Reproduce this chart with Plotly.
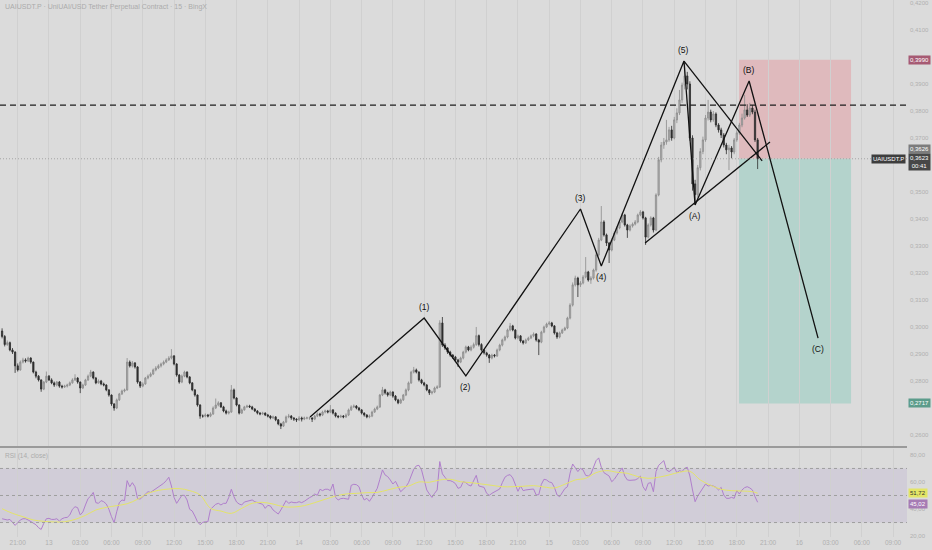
import pandas as pd
import plotly.graph_objects as go

# UAIUSDT.P 15 min candles, prices in 1e-4 USDT
first_open = 2985
closes = [
    2965, 2935, 2942, 2915, 2907, 2856, 2841, 2870, 2878, 2874,
    2885, 2870, 2833, 2818, 2804, 2770, 2796, 2818, 2804, 2793,
    2785, 2796, 2781, 2778, 2781, 2785, 2793, 2804, 2811, 2796,
    2774, 2785, 2804, 2818, 2833, 2811, 2793, 2800, 2789, 2785,
    2767, 2748, 2715, 2700, 2730, 2752, 2763, 2767, 2870, 2856,
    2867, 2852, 2796, 2781, 2789, 2811, 2818, 2826, 2841, 2848,
    2856, 2863, 2870, 2878, 2885, 2893, 2863, 2822, 2796, 2818,
    2833, 2815, 2793, 2767, 2748, 2711, 2670, 2670, 2674, 2670,
    2678, 2700, 2711, 2719, 2704, 2689, 2681, 2685, 2767, 2737,
    2711, 2681, 2693, 2704, 2707, 2704, 2696, 2689, 2681, 2678,
    2681, 2674, 2670, 2663, 2667, 2656, 2641, 2633, 2648, 2667,
    2670, 2663, 2659, 2656, 2663, 2659, 2663, 2663, 2663, 2659,
    2670, 2678, 2674, 2685, 2689, 2685, 2693, 2681, 2670, 2667,
    2670, 2667, 2674, 2693, 2704, 2707, 2700, 2693, 2681, 2674,
    2667, 2670, 2685, 2696, 2704, 2748, 2767, 2756, 2748, 2759,
    2744, 2730, 2719, 2730, 2748, 2767, 2793, 2833, 2841, 2833,
    2804, 2793, 2785, 2767, 2756, 2759, 2774, 2778, 3015, 2933,
    2922, 2907, 2896, 2889, 2878, 2870, 2885, 2907, 2926, 2915,
    2925, 2935, 2968, 2935, 2915, 2904, 2896, 2885, 2896, 2893,
    2915, 2933, 2952, 2963, 2989, 3004, 2989, 2959, 2967, 2948,
    2941, 2952, 2959, 2967, 2974, 2952, 2944, 2981, 3000, 3011,
    3015, 3004, 2978, 2963, 2978, 2989, 2996, 3033, 3081, 3156,
    3181, 3156, 3163, 3185, 3204, 3174, 3181, 3211, 3267, 3322,
    3389, 3341, 3311, 3285, 3322, 3348, 3367, 3389, 3415, 3378,
    3359, 3374, 3381, 3389, 3415, 3426, 3404, 3333, 3378, 3404,
    3359, 3489, 3619, 3674, 3685, 3693, 3730, 3700, 3767, 3793,
    3841, 3896, 3930, 3900, 3700, 3530, 3490, 3590, 3650, 3693,
    3774, 3796, 3767, 3789, 3748, 3730, 3711, 3674, 3656, 3663,
    3648, 3693, 3719, 3748, 3774, 3804, 3785, 3811, 3796, 3693, 3623,
]
highs = [
    2995, 2970, 2950, 2946, 2922, 2910, 2865, 2876, 2886, 2884,
    2890, 2888, 2872, 2838, 2822, 2806, 2800, 2835, 2822, 2810,
    2798, 2800, 2800, 2786, 2786, 2790, 2798, 2810, 2825, 2814,
    2798, 2790, 2808, 2824, 2841, 2836, 2815, 2806, 2804, 2794,
    2788, 2770, 2750, 2718, 2735, 2756, 2768, 2772, 2885, 2876,
    2874, 2870, 2855, 2800, 2795, 2815, 2824, 2832, 2846, 2855,
    2862, 2868, 2876, 2884, 2892, 2918, 2896, 2866, 2826, 2824,
    2838, 2836, 2818, 2796, 2770, 2750, 2714, 2676, 2680, 2678,
    2684, 2706, 2735, 2725, 2722, 2708, 2694, 2690, 2785, 2772,
    2740, 2714, 2698, 2708, 2712, 2712, 2708, 2700, 2692, 2685,
    2686, 2684, 2678, 2673, 2672, 2670, 2659, 2645, 2652, 2672,
    2678, 2674, 2666, 2662, 2670, 2668, 2668, 2668, 2667, 2666,
    2674, 2684, 2682, 2690, 2694, 2693, 2711, 2696, 2684, 2673,
    2675, 2674, 2680, 2698, 2710, 2713, 2711, 2704, 2696, 2684,
    2677, 2676, 2690, 2701, 2709, 2752, 2778, 2771, 2760, 2764,
    2762, 2748, 2734, 2735, 2752, 2772, 2798, 2838, 2852, 2846,
    2836, 2808, 2797, 2789, 2770, 2764, 2779, 2784, 3025, 3037,
    2940, 2926, 2912, 2900, 2893, 2882, 2890, 2912, 2931, 2930,
    2932, 2942, 3000, 2972, 2940, 2918, 2908, 2900, 2901, 2900,
    2920, 2938, 2957, 2968, 2994, 3015, 3008, 2992, 2972, 2970,
    2952, 2957, 2964, 2972, 2980, 2977, 2956, 2986, 3005, 3016,
    3022, 3019, 3007, 2982, 2983, 2994, 3001, 3038, 3088, 3165,
    3190, 3186, 3170, 3192, 3259, 3208, 3188, 3216, 3274, 3330,
    3448, 3395, 3346, 3315, 3328, 3354, 3373, 3395, 3422, 3419,
    3382, 3380, 3387, 3396, 3420, 3433, 3430, 3408, 3384, 3410,
    3408, 3495, 3630, 3685, 3700, 3767, 3741, 3745, 3778, 3810,
    3878, 3905, 3978, 3945, 3910, 3710, 3545, 3600, 3662, 3705,
    3785, 3841, 3805, 3800, 3795, 3755, 3738, 3718, 3682, 3675,
    3670, 3700, 3728, 3756, 3790, 3860, 3825, 3830, 3822, 3805, 3700,
]
lows = [
    2958, 2928, 2930, 2910, 2900, 2830, 2835, 2838, 2865, 2868,
    2870, 2864, 2828, 2810, 2798, 2760, 2766, 2792, 2800, 2788,
    2778, 2780, 2775, 2772, 2774, 2776, 2781, 2790, 2800, 2790,
    2755, 2770, 2782, 2800, 2814, 2806, 2788, 2790, 2784, 2780,
    2762, 2742, 2708, 2690, 2696, 2726, 2748, 2758, 2764, 2850,
    2850, 2846, 2790, 2774, 2777, 2786, 2806, 2814, 2822, 2836,
    2844, 2850, 2858, 2866, 2874, 2880, 2858, 2816, 2790, 2792,
    2814, 2810, 2788, 2762, 2742, 2705, 2660, 2664, 2666, 2665,
    2666, 2674, 2696, 2706, 2700, 2684, 2676, 2676, 2682, 2732,
    2706, 2676, 2678, 2690, 2700, 2700, 2692, 2685, 2676, 2673,
    2674, 2670, 2665, 2658, 2659, 2651, 2636, 2622, 2630, 2644,
    2662, 2656, 2652, 2648, 2652, 2650, 2655, 2658, 2656, 2648,
    2655, 2666, 2668, 2670, 2680, 2680, 2681, 2676, 2665, 2662,
    2663, 2662, 2663, 2670, 2689, 2700, 2695, 2688, 2676, 2668,
    2662, 2662, 2666, 2682, 2692, 2700, 2744, 2750, 2742, 2744,
    2738, 2725, 2714, 2715, 2726, 2744, 2762, 2789, 2828, 2828,
    2798, 2788, 2780, 2762, 2748, 2750, 2755, 2770, 2774, 2926,
    2915, 2900, 2890, 2882, 2870, 2852, 2866, 2880, 2902, 2910,
    2910, 2920, 2930, 2928, 2909, 2898, 2890, 2867, 2880, 2887,
    2889, 2910, 2928, 2947, 2958, 2984, 2984, 2954, 2954, 2942,
    2935, 2937, 2948, 2955, 2962, 2946, 2896, 2940, 2977, 2996,
    3006, 2999, 2972, 2956, 2958, 2974, 2985, 2992, 3028, 3076,
    3150, 3111, 3148, 3158, 3180, 3168, 3160, 3176, 3205, 3262,
    3318, 3335, 3300, 3237, 3280, 3318, 3342, 3362, 3384, 3372,
    3330, 3354, 3368, 3376, 3384, 3410, 3398, 3304, 3328, 3372,
    3350, 3355, 3484, 3610, 3660, 3675, 3686, 3690, 3695, 3755,
    3785, 3830, 3880, 3880, 3690, 3505, 3452, 3480, 3580, 3640,
    3686, 3765, 3758, 3760, 3740, 3720, 3700, 3665, 3640, 3581,
    3625, 3640, 3686, 3712, 3740, 3768, 3778, 3778, 3788, 3685, 3585,
]

# RSI (14, close), one value per candle
rsi = [
    32.8, 32.6, 31.9, 32.3, 30.4, 27.9, 29.9, 31.9, 32.8, 32.8,
    31.9, 30.9, 29.9, 28.4, 26.2, 24.9, 29.4, 32.8, 33.1, 32.3,
    32.3, 32.8, 31.1, 32.8, 33.6, 33.8, 35.6, 39.8, 41.7, 41.0,
    35.6, 37.8, 43.0, 47.7, 49.6, 52.3, 44.7, 44.2, 46.2, 45.4,
    43.7, 39.8, 34.3, 29.9, 38.0, 44.7, 46.7, 46.2, 61.0, 56.5,
    59.5, 56.5, 47.7, 47.4, 49.1, 51.1, 52.8, 52.3, 53.6, 55.1,
    56.5, 57.8, 59.0, 61.0, 63.5, 57.0, 48.6, 44.2, 47.2, 50.1,
    50.1, 46.7, 39.8, 38.5, 34.8, 30.6, 28.4, 30.1, 30.6, 30.6,
    39.8, 41.7, 43.5, 44.2, 43.0, 44.2, 44.2, 48.6, 54.6, 49.1,
    45.2, 43.7, 43.0, 45.2, 45.7, 46.2, 46.7, 45.4, 44.9, 44.4,
    43.5, 40.5, 42.7, 42.2, 39.3, 37.8, 36.3, 39.3, 43.0, 46.2,
    44.2, 45.2, 44.7, 44.7, 45.4, 44.7, 45.7, 47.2, 48.4, 49.4,
    51.1, 50.1, 54.6, 53.6, 54.6, 54.6, 53.6, 58.5, 48.6, 46.7,
    47.7, 47.9, 47.7, 47.2, 57.5, 58.3, 58.0, 56.5, 50.4, 46.7,
    47.9, 45.7, 48.6, 51.6, 55.3, 62.0, 68.9, 65.2, 64.0, 61.5,
    58.5, 60.5, 56.5, 52.8, 54.6, 56.5, 59.5, 64.0, 69.4, 71.9,
    72.3, 68.9, 61.5, 54.1, 51.1, 48.6, 51.6, 54.1, 75.1, 66.0,
    63.5, 61.0, 61.0, 60.2, 58.8, 55.3, 56.0, 60.2, 59.5, 57.8,
    57.0, 60.5, 64.9, 57.0, 56.5, 56.0, 51.6, 50.1, 51.6, 52.6,
    53.6, 54.8, 59.5, 63.5, 64.9, 65.4, 63.0, 58.5, 53.1, 57.0,
    53.6, 54.1, 54.1, 54.6, 54.8, 50.4, 50.6, 58.3, 62.0, 61.5,
    60.0, 59.5, 56.0, 50.4, 49.1, 52.1, 55.1, 56.5, 66.4, 73.3,
    70.9, 67.7, 70.1, 68.9, 64.9, 64.4, 65.9, 71.4, 75.8, 77.8,
    70.9, 66.9, 65.9, 64.4, 60.2, 62.0, 64.9, 67.4, 70.4, 64.4,
    61.5, 61.2, 61.5, 61.5, 62.5, 64.4, 56.5, 53.6, 59.0, 59.5,
    52.8, 67.7, 72.3, 74.3, 75.8, 68.9, 67.7, 68.9, 70.9, 66.9,
    68.4, 67.7, 70.1, 70.9, 64.4, 54.1, 45.4, 49.6, 52.8, 56.0,
    58.5, 57.0, 57.5, 57.0, 56.0, 54.1, 56.0, 50.4, 47.9, 47.9,
    48.6, 47.9, 53.6, 51.1, 54.1, 55.8, 56.5, 55.6, 54.1, 49.1, 45.0,
]
# RSI moving average, read once an hour (every 4th candle) plus the last one
rsi_ma = [
    40.2, 36.8, 34.3, 31.9, 30.9, 30.4, 30.6, 32.3, 35.3, 39.3,
    41.2, 42.5, 43.9, 47.2, 51.6, 53.8, 54.8, 55.1, 53.6, 50.4,
    40.5, 38.5, 36.8, 40.5, 44.2, 44.9, 43.7, 41.7, 41.5, 42.5,
    44.7, 47.2, 49.6, 51.1, 51.6, 52.1, 52.3, 54.1, 56.0, 57.0,
    60.0, 59.8, 61.5, 62.0, 60.2, 59.5, 58.5, 57.5, 56.5, 56.5,
    56.8, 57.3, 56.3, 55.6, 58.3, 61.5, 62.7, 66.9, 68.4, 67.2,
    66.4, 64.0, 62.7, 63.5, 65.2, 67.2, 67.9, 61.5, 57.5, 54.6,
    53.6, 53.3, 52.8, 51.7,
]

time_labels = ["21:00", "13", "03:00", "06:00", "09:00", "12:00", "15:00", "18:00",
               "21:00", "14", "03:00", "06:00", "09:00", "12:00", "15:00", "18:00",
               "21:00", "15", "03:00", "06:00", "09:00", "12:00", "15:00", "18:00",
               "21:00", "16", "03:00", "06:00", "09:00"]
# 0,4000 and 0,2700 sit under the stop / target tags, so they are not listed
price_ticks = [0.26, 0.28, 0.29, 0.30, 0.31, 0.32, 0.33, 0.34,
               0.35, 0.36, 0.37, 0.38, 0.39, 0.41, 0.42]
rsi_ticks = [20, 40, 60, 80]

# Elliott wave drawing
wave_names = ["", "(1)", "(2)", "(3)", "(4)", "(5)", "(A)", "(B)", "(C)"]
wave_times = ["2025-06-14 01:03", "2025-06-14 12:00", "2025-06-14 16:00",
              "2025-06-15 03:00", "2025-06-15 05:00", "2025-06-15 12:56",
              "2025-06-15 14:00", "2025-06-15 19:11", "2025-06-16 01:48"]
wave_prices = [0.2667, 0.3033, 0.2819, 0.3437, 0.3226, 0.3985, 0.3452, 0.3911, 0.2959]
wave_up = [False, True, False, True, False, True, False, True, False]

upper_line_t = ["2025-06-15 12:56", "2025-06-15 20:26"]
upper_line_p = [0.3985, 0.3615]
lower_line_t = ["2025-06-15 09:12", "2025-06-15 21:11"]
lower_line_p = [0.3311, 0.3685]

# short position tool
rr_start, rr_end = "2025-06-15 18:13", "2025-06-16 04:58"
stop_price, entry_price, target_price = 0.3990, 0.3623, 0.2717
level_price = 0.3822
last_price, ask_price = 0.3623, 0.3626

# ---------------------------------------------------------------------
n = len(closes)
times = pd.date_range("2025-06-12 19:30", periods=n, freq="15min")
opens = [first_open] + closes[:-1]
o = [v / 10000 for v in opens]
h = [v / 10000 for v in highs]
l = [v / 10000 for v in lows]
c = [v / 10000 for v in closes]
ma_idx = list(range(0, n, 4)) + [n - 1]
ma_times = [times[i] for i in ma_idx]

tick_times = pd.date_range("2025-06-12 21:00", periods=len(time_labels), freq="3h")

BG = "#dbdbdb"
GRID = "#d0d0d0"
AX = "#b0b0b0"
INK = "#111111"
FONT = "Liberation Sans"

fig = go.Figure()

fig.add_trace(go.Candlestick(
    x=times, open=o, high=h, low=l, close=c,
    increasing=dict(line=dict(color="#8c8c8c", width=0.8), fillcolor="#b3b3b3"),
    decreasing=dict(line=dict(color="#2c2c2c", width=0.8), fillcolor="#333333"),
    whiskerwidth=0, hoverinfo="skip", xaxis="x", yaxis="y"))

for xs, ys in ((wave_times, wave_prices), (upper_line_t, upper_line_p),
               (lower_line_t, lower_line_p)):
    fig.add_trace(go.Scatter(x=xs, y=ys, mode="lines",
                             line=dict(color=INK, width=1.3), xaxis="x", yaxis="y",
                             hoverinfo="skip"))

fig.add_trace(go.Scatter(x=times, y=rsi, mode="lines",
                         line=dict(color="#b07fcc", width=1), xaxis="x2", yaxis="y2",
                         hoverinfo="skip"))
fig.add_trace(go.Scatter(x=ma_times, y=rsi_ma, mode="lines", line_shape="spline",
                         line=dict(color="#e4e468", width=1), xaxis="x2", yaxis="y2",
                         hoverinfo="skip"))

shapes = [
    dict(type="rect", xref="x", yref="y", x0=rr_start, x1=rr_end,
         y0=entry_price, y1=stop_price, fillcolor="#dfbabd", line_width=0, layer="below"),
    dict(type="rect", xref="x", yref="y", x0=rr_start, x1=rr_end,
         y0=target_price, y1=entry_price, fillcolor="#b4d3cc", line_width=0, layer="below"),
    dict(type="line", xref="x domain", yref="y", x0=0, x1=1, y0=level_price, y1=level_price,
         line=dict(color="#1e1e1e", width=1.3, dash="6px,4px")),
    dict(type="line", xref="x domain", yref="y", x0=0, x1=1, y0=last_price, y1=last_price,
         line=dict(color="#a4a4a4", width=1, dash="1px,2px")),
    dict(type="rect", xref="x2 domain", yref="y2", x0=0, x1=1, y0=30, y1=70,
         fillcolor="rgba(126,87,194,0.10)", line_width=0, layer="below"),
    dict(type="line", xref="paper", yref="paper", x0=0, x1=1, y0=0.1676, y1=0.1676,
         line=dict(color="#9a9a9a", width=2)),
]
for lvl in (30, 50, 70):
    shapes.append(dict(type="line", xref="x2 domain", yref="y2", x0=0, x1=1, y0=lvl, y1=lvl,
                       line=dict(color="#9e9e9e", width=1, dash="3px,3px")))

annotations = []
for t, p, name, up in zip(wave_times, wave_prices, wave_names, wave_up):
    if name:
        annotations.append(dict(x=t, y=p, xref="x", yref="y", text=name, showarrow=False,
                                yshift=11 if up else -11,
                                font=dict(size=8.5, color=INK, family=FONT)))


def price_tag(y, text, bg, fg="#ffffff", yshift=0, yref="y"):
    return dict(x=1, xref="paper", y=y, yref=yref, xanchor="left", xshift=1, yshift=yshift,
                text=text, showarrow=False, bgcolor=bg, borderpad=1,
                font=dict(size=6, color=fg, family=FONT))


def fmt(v, nd=4):
    return f"{v:.{nd}f}".replace(".", ",")


annotations += [
    price_tag(stop_price, fmt(stop_price), "#a65a73"),
    price_tag(ask_price, fmt(ask_price), "#7c7c7c", yshift=9),
    price_tag(last_price, fmt(last_price) + "<br>00:41", "#474747", yshift=-3),
    price_tag(target_price, fmt(target_price), "#5c9c8b"),
    price_tag(rsi_ma[-1], fmt(rsi_ma[-1] + 0.02, 2), "#e3e566", fg="#333333", yref="y2"),
    price_tag(rsi[-1], fmt(rsi[-1] + 0.02, 2), "#a67bb4", yshift=-2, yref="y2"),
    dict(x=1, xref="paper", y=last_price, yref="y", xanchor="right", xshift=-1,
         text="UAIUSDT.P", showarrow=False, bgcolor="#3d3d3d", borderpad=1,
         font=dict(size=6, color="#ffffff", family=FONT)),
    dict(x=0, xref="paper", y=0.987, yref="paper", xanchor="left", yanchor="middle", xshift=3,
         text="UAIUSDT.P · UniUAI/USD Tether Perpetual Contract · 15 · BingX",
         showarrow=False, font=dict(size=7, color="#ababab", family=FONT)),
    dict(x=0, xref="paper", y=0.151, yref="paper", xanchor="left", yanchor="middle", xshift=3,
         text="RSI (14, close)", showarrow=False,
         font=dict(size=6.5, color="#ababab", family=FONT)),
]

x_range = ["2025-06-12 19:18", "2025-06-16 10:20"]

fig.update_layout(
    width=932, height=550,
    margin=dict(l=0, r=25, t=0, b=13),
    paper_bgcolor=BG, plot_bgcolor=BG,
    showlegend=False,
    font=dict(family=FONT, size=7, color=AX),
    shapes=shapes, annotations=annotations,
    xaxis=dict(type="date", range=x_range, domain=[0, 1], anchor="y",
               tickvals=tick_times, ticktext=time_labels, showticklabels=False,
               showgrid=True, gridcolor=GRID, gridwidth=1, zeroline=False,
               rangeslider=dict(visible=False), fixedrange=True),
    xaxis2=dict(type="date", range=x_range, domain=[0, 1], anchor="y2", matches="x",
                tickvals=tick_times, ticktext=time_labels, showticklabels=True,
                tickfont=dict(size=6.5, color=AX), ticks="",
                showgrid=True, gridcolor=GRID, gridwidth=1, zeroline=False),
    yaxis=dict(domain=[0.1695, 1], range=[0.25593, 0.42111], side="right", anchor="x",
               tickvals=price_ticks, ticktext=[fmt(v) for v in price_ticks],
               tickfont=dict(size=6, color=AX), showgrid=False, zeroline=False,
               ticks="", ticklabelstandoff=2, automargin=False),
    yaxis2=dict(domain=[0, 0.1639], range=[19.3, 84.4], side="right", anchor="x2",
                tickvals=rsi_ticks, ticktext=[fmt(v, 2) for v in rsi_ticks],
                tickfont=dict(size=6, color=AX), showgrid=False, zeroline=False,
                ticks="", ticklabelstandoff=2, automargin=False),
)

fig.write_html("out.html", config={"displayModeBar": False},
               post_script="document.body.style.margin='0';")
